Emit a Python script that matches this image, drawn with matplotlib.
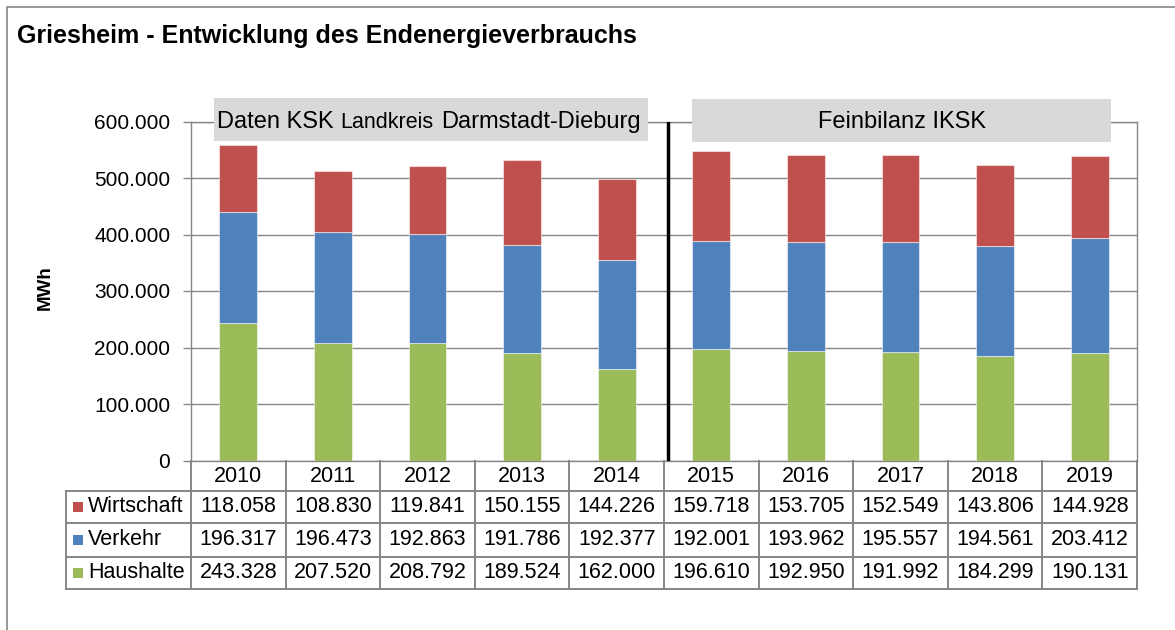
import numpy as np
import matplotlib.pyplot as plt
from matplotlib.lines import Line2D
from matplotlib.patches import Rectangle
from matplotlib.transforms import blended_transform_factory

plt.rcParams['font.family'] = ['Liberation Sans', 'DejaVu Sans']

# Daten (MWh)
jahre = ['2010', '2011', '2012', '2013', '2014', '2015', '2016', '2017', '2018', '2019']
wirtschaft = [118058, 108830, 119841, 150155, 144226, 159718, 153705, 152549, 143806, 144928]
verkehr = [196317, 196473, 192863, 191786, 192377, 192001, 193962, 195557, 194561, 203412]
haushalte = [243328, 207520, 208792, 189524, 162000, 196610, 192950, 191992, 184299, 190131]

reihen = ['Wirtschaft', 'Verkehr', 'Haushalte']
werte = [wirtschaft, verkehr, haushalte]
farben = ['#C0504D', '#4F81BD', '#9BBB59']

W, H = 1175, 630
GRAU = '#868686'


def fx(px):
    return px / W


def fy(py):
    return 1 - py / H


def tausender(v):
    return f'{int(v):,}'.replace(',', '.')


fig = plt.figure(figsize=(W / 100, H / 100), dpi=100)

# Plotbereich
ax_l, ax_r, ax_t, ax_b = 191, 1137, 121.5, 460.5
ax = fig.add_axes([fx(ax_l), fy(ax_b), (ax_r - ax_l) / W, (ax_b - ax_t) / H])

x = np.arange(len(jahre))
kante = (1, 1, 1, 0.5)
ax.bar(x, haushalte, 0.4, color=farben[2], edgecolor=kante, linewidth=0.8, zorder=3)
ax.bar(x, verkehr, 0.4, bottom=haushalte, color=farben[1], edgecolor=kante, linewidth=0.8, zorder=3)
ax.bar(x, wirtschaft, 0.4, bottom=np.add(haushalte, verkehr), color=farben[0],
       edgecolor=kante, linewidth=0.8, zorder=3)

ax.set_xlim(-0.5, len(jahre) - 0.5)
ax.set_ylim(0, 600000)
ax.set_yticks(range(0, 600001, 100000))
ax.yaxis.set_major_formatter(lambda v, p: tausender(v))
ax.tick_params(axis='y', length=6, width=1, color=GRAU, labelsize=15, pad=9)
ax.set_xticks([])
ax.grid(axis='y', color=GRAU, lw=1, zorder=0)
for s in ax.spines.values():
    s.set_color(GRAU)
    s.set_linewidth(1)

# Trennlinie zwischen den Datenquellen
ax.axvline(4.54, color='black', lw=2.5, zorder=4)

# Titel, Achsenbeschriftung, Rahmen
fig.text(fx(17), fy(43), 'Griesheim - Entwicklung des Endenergieverbrauchs',
         fontsize=18, fontweight='bold', va='baseline')
fig.text(fx(45), fy(288), 'MWh', rotation=90, fontsize=13.5, fontweight='bold',
         ha='center', va='center')
fig.add_artist(Line2D([fx(7), fx(7), 1], [0, fy(7), fy(7)], transform=fig.transFigure,
                      color=GRAU, lw=1.2))

# Beschriftungskästen
for (x0, y0, x1, y1) in [(214, 98, 648, 141), (692, 99, 1111, 142)]:
    fig.add_artist(Rectangle((fx(x0), fy(y1)), (x1 - x0) / W, (y1 - y0) / H,
                             transform=fig.transFigure, facecolor='#D9D9D9',
                             edgecolor='none', zorder=5))

renderer = fig.canvas.get_renderer()
pos = 217
for teil, gr in [('Daten KSK', 17), ('Landkreis', 15.5), ('Darmstadt-Dieburg', 17)]:
    t = fig.text(fx(pos), fy(128), teil, fontsize=gr, va='baseline', zorder=6)
    pos = t.get_window_extent(renderer).x1 + 7
fig.text(fx(901.5), fy(128), 'Feinbilanz IKSK', fontsize=17, ha='center',
         va='baseline', zorder=6)

# Datentabelle
trans = blended_transform_factory(ax.transData, fig.transFigure)
spalte = (ax_r - ax_l) / len(jahre)
x_links = -0.5 - (ax_l - 66) / spalte
kopf_unten = 490.7
zeilen_unten = [523.3, 556.7, 589]
zeilen_mitte = [507, 539.5, 572.5]


def linie(xs, ys):
    fig.add_artist(Line2D(xs, [fy(v) for v in ys], transform=trans, color=GRAU, lw=1.4))


for yy in [kopf_unten] + zeilen_unten:
    linie([x_links, len(jahre) - 0.5], [yy, yy])
for i in range(len(jahre) + 1):
    linie([i - 0.5, i - 0.5], [ax_b, zeilen_unten[-1]])
linie([x_links, x_links], [kopf_unten, zeilen_unten[-1]])

for i, j in enumerate(jahre):
    fig.text(i, fy(476), j, transform=trans, fontsize=15.5, ha='center', va='center')

for name, reihe, farbe, ym in zip(reihen, werte, farben, zeilen_mitte):
    fig.add_artist(Rectangle((fx(73), fy(ym + 5)), 10 / W, 10 / H,
                             transform=fig.transFigure, facecolor=farbe, edgecolor='none'))
    fig.text(fx(88), fy(ym), name, fontsize=15.5, va='center')
    for i, v in enumerate(reihe):
        fig.text(i, fy(ym), tausender(v), transform=trans, fontsize=15.5,
                 ha='center', va='center')

fig.savefig('out.png', dpi=100)
